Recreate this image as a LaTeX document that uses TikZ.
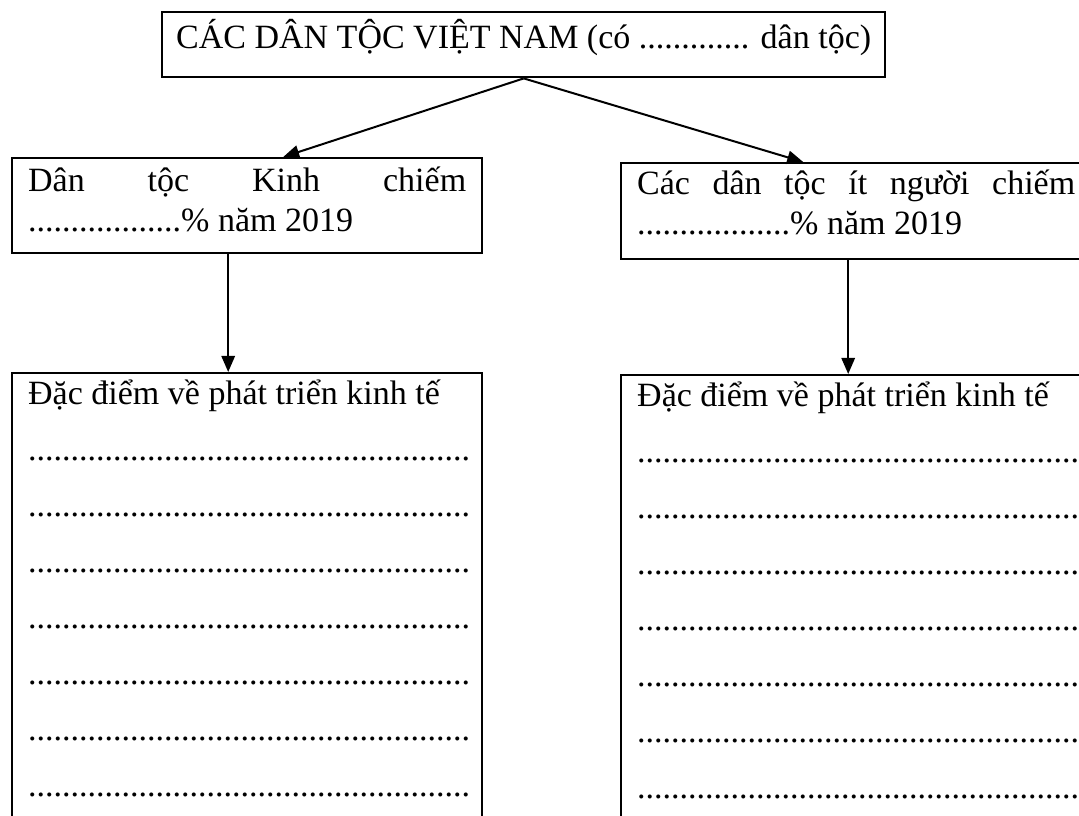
\documentclass[tikz,border=0pt]{standalone}
\usepackage{fontspec}
\setmainfont{Liberation Serif}
\usetikzlibrary{arrows.meta}
\usetikzlibrary{positioning}
\hyphenpenalty=10000
\newlength{\px}
\setlength{\px}{0.75pt}
\newlength{\mypad}
\setlength{\mypad}{16\px}
\newlength{\mytw}
\setlength{\mytw}{438\px}
\newlength{\mygap}
\setlength{\mygap}{12pt}
\newcommand{\dotrow}{....................................................}

\begin{document}
\begin{tikzpicture}[x=0.75pt, y=-0.75pt, line width=1.8pt,
    every node/.style={font=\fontsize{25.5}{30}\selectfont},
    box/.style={draw, anchor=north west, inner ysep=0pt, inner xsep=\mypad},
    arr/.style={-{Triangle[length=12pt,width=10pt]}, line width=1.5pt}]
\useasboundingbox (0,0) rectangle (1079,816);
\clip (0,0) rectangle (1079,816);

\node[box, inner xsep=14\px, text height=36\px, text depth=29\px] (title) at (161,11)
    {CÁC DÂN TỘC VIỆT NAM (có ............. dân tộc)};

\node[box, text height=33\px, text depth=62\px] (kinh) at (11,157){
    \begin{tabular}[t]{@{}p{\mytw}@{}}
        \makebox[\mytw][s]{Dân tộc Kinh chiếm}\\
        ..................\% năm 2019
    \end{tabular}};
\node[box, text height=31\px, text depth=65\px] (itnguoi) at (620,162){
    \begin{tabular}[t]{@{}p{\mytw}@{}}
        \makebox[\mytw][s]{Các dân tộc ít người chiếm}\\
        ..................\% năm 2019
    \end{tabular}};

\node[box, text height=31\px, text depth=480\px] (ktkinh) at (11,372){
    \begin{tabular}[t]{@{}p{\mytw}@{}}
        Đặc điểm về phát triển kinh tế\\[\mygap]
        \dotrow\\[\mygap]
        \dotrow\\[\mygap]
        \dotrow\\[\mygap]
        \dotrow\\[\mygap]
        \dotrow\\[\mygap]
        \dotrow\\[\mygap]
        \dotrow
    \end{tabular}};
\node[box, text height=31\px, text depth=480\px] (ktitnguoi) at (620,374){
    \begin{tabular}[t]{@{}p{\mytw}@{}}
        Đặc điểm về phát triển kinh tế\\[\mygap]
        \dotrow\\[\mygap]
        \dotrow\\[\mygap]
        \dotrow\\[\mygap]
        \dotrow\\[\mygap]
        \dotrow\\[\mygap]
        \dotrow\\[\mygap]
        \dotrow
    \end{tabular}};

\draw[arr] (title.south) -- ([xshift=36\px]kinh.north);
\draw[arr] (title.south) -- ([xshift=-53\px]itnguoi.north);
\draw[arr] ([xshift=-19\px]kinh.south) -- ([xshift=-19\px]ktkinh.north);
\draw[arr] ([xshift=-8\px]itnguoi.south) -- ([xshift=-8\px]ktitnguoi.north);
\end{tikzpicture}
\end{document}
